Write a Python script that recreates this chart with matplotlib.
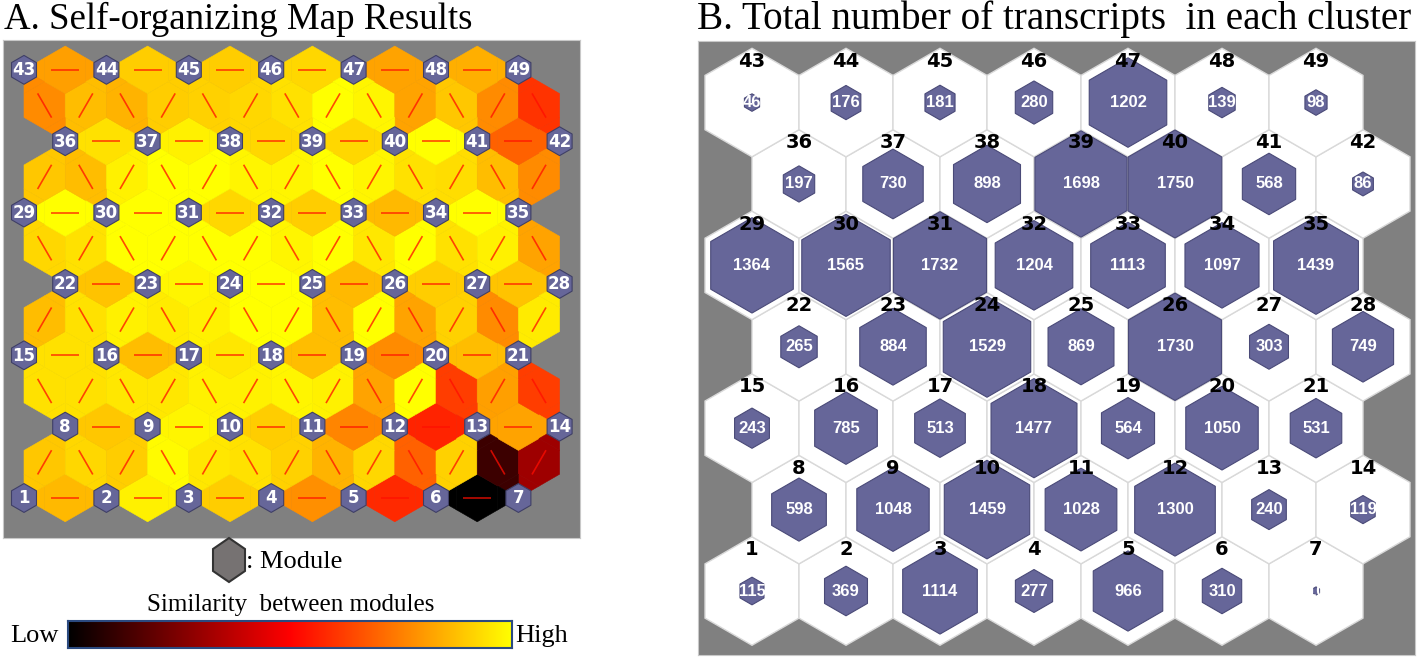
import numpy as np
import matplotlib.pyplot as plt
from matplotlib.patches import RegularPolygon, Polygon
from matplotlib.collections import PolyCollection, LineCollection
from matplotlib.colors import LinearSegmentedColormap

# cluster ids 1..49 (7 x 7 hex map, row by row from the bottom)
node_ids = list(range(1, 50))

# number of transcripts in each cluster (panel B)
cluster_sizes = [115, 369, 1114, 277, 966, 310, 10,
                 598, 1048, 1459, 1028, 1300, 240, 119,
                 243, 785, 513, 1477, 564, 1050, 531,
                 265, 884, 1529, 869, 1730, 303, 749,
                 1364, 1565, 1732, 1204, 1113, 1097, 1439,
                 197, 730, 898, 1698, 1750, 568, 86,
                 46, 176, 181, 280, 1202, 139, 98]

# similarity between horizontally neighbouring modules (one list per map row)
horiz_links = [
    [0.86, 0.97, 0.90, 0.78, 0.58, 0.00],
    [0.89, 0.98, 0.90, 0.76, 0.57, 0.82],
    [0.94, 0.87, 0.95, 0.87, 0.77, 0.87],
    [0.88, 0.98, 1.00, 0.86, 0.90, 0.88],
    [1.00, 1.00, 0.92, 0.90, 0.86, 1.00],
    [0.94, 0.97, 0.92, 0.92, 1.00, 0.69],
    [0.81, 0.90, 0.90, 0.92, 0.82, 0.84],
]

# similarity between diagonal neighbours (between map rows 1-2, 2-3, ...)
diag_links = [
    [0.89, 0.92, 0.90, 0.99, 0.95, 0.94, 0.91, 0.85, 0.92, 0.69, 0.91, 0.12, 0.31],
    [0.94, 0.94, 0.95, 0.95, 0.97, 0.97, 0.98, 0.97, 0.82, 1.00, 0.62, 0.81, 0.62],
    [0.87, 0.94, 0.97, 0.96, 0.97, 1.00, 1.00, 0.87, 1.00, 0.82, 0.91, 0.77, 0.96],
    [0.92, 0.94, 1.00, 1.00, 1.00, 1.00, 0.98, 1.00, 0.95, 1.00, 0.94, 0.97, 0.82],
    [0.89, 0.87, 0.97, 1.00, 1.00, 0.98, 0.98, 1.00, 0.98, 0.94, 0.93, 0.87, 0.77],
    [0.77, 0.87, 0.85, 0.90, 0.91, 0.92, 0.94, 1.00, 0.98, 0.82, 0.89, 0.77, 0.60],
]

W, H = 1418, 658
fig = plt.figure(figsize=(W / 100, H / 100), dpi=100)
cmap = LinearSegmentedColormap.from_list('sim', ['#000000', '#ff0000', '#ffff00'])
purple = '#666699'
HR = np.sqrt(3) / 2
R = 1 / np.sqrt(3)


def px_axes(x0, y0, x1, y1):
    return fig.add_axes([x0 / W, (H - y1) / H, (x1 - x0) / W, (y1 - y0) / H])


def hex_verts(x, y, r):
    a = np.deg2rad(np.arange(30, 390, 60))
    return np.column_stack([x + r * np.cos(a), y + r * np.sin(a)])


# ---------------- panel A : U-matrix ----------------
s = 41.2  # pixels per fine cell
axA = px_axes(3, 40, 580, 538)
axA.set_xlim((3 - 24) / s, (580 - 24) / s)
axA.set_ylim((498 - 538) / s, (498 - 40) / s)
axA.set_facecolor('#808080')
axA.set_xticks([])
axA.set_yticks([])
for sp in axA.spines.values():
    sp.set_color('#c8c8c8')


def row_off(r):
    if r % 2:
        return 0.5
    return 0 if r % 4 == 0 else 1


vals = {}
nodes = []
for r in range(13):
    for k in range(13):
        x = k + row_off(r)
        if r % 2 == 0:
            if k % 2 == 0:
                nodes.append((x, r))
                continue
            v = horiz_links[r // 2][k // 2]
        else:
            v = diag_links[r // 2][k]
        vals[(r, int(round(2 * x)))] = v

polys, cols, segs = [], [], []
for (r, x2), v in vals.items():
    x, y = x2 / 2, r * HR
    polys.append(hex_verts(x, y, R))
    cols.append(cmap(v))
    if r % 2 == 0:
        ang = 0
    else:
        kl = x - 0.5 - row_off(r - 1)
        ang = 60 if (abs(kl - round(kl)) < 1e-6 and round(kl) % 2 == 0 and 0 <= kl <= 12) else 120
    t = np.deg2rad(ang)
    d = 0.34
    segs.append([(x - d * np.cos(t), y - d * np.sin(t)), (x + d * np.cos(t), y + d * np.sin(t))])

# node cells: six triangles, each shaded like the link cell it faces
for (x, r) in nodes:
    y = r * HR
    for th in range(0, 360, 60):
        t = np.deg2rad(th)
        key = (r + int(round(np.sin(t) / HR)), int(round(2 * (x + np.cos(t)))))
        if key not in vals:
            continue
        a1, a2 = np.deg2rad(th - 30), np.deg2rad(th + 30)
        polys.append([(x, y), (x + R * np.cos(a1), y + R * np.sin(a1)),
                      (x + R * np.cos(a2), y + R * np.sin(a2))])
        cols.append(cmap(vals[key]))

axA.add_collection(PolyCollection(polys, facecolors=cols, edgecolors=cols, linewidths=0.4, zorder=1))
axA.add_collection(LineCollection(segs, colors=[(1, 0.05, 0, 0.75)], linewidths=1.2, zorder=2))

for i, (x, r) in enumerate(sorted(nodes, key=lambda p: (p[1], p[0]))):
    y = r * HR
    axA.add_patch(RegularPolygon((x, y), 6, radius=0.35, facecolor=purple,
                                 edgecolor='#3f3f66', lw=0.8, zorder=3))
    axA.text(x, y - 0.01, str(node_ids[i]), color='white', fontsize=12, fontweight='bold',
             ha='center', va='center', zorder=4)

# ---------------- panel B : cluster sizes ----------------
sb = 94.0
axB = px_axes(698, 41, 1415, 655)
axB.set_xlim((698 - 752) / sb, (1415 - 752) / sb)
axB.set_ylim((591 - 655) / sb, (591 - 41) / sb)
axB.set_facecolor('#808080')
axB.set_xticks([])
axB.set_yticks([])
for sp in axB.spines.values():
    sp.set_color('#c8c8c8')

smax = max(cluster_sizes)
for i, n in enumerate(cluster_sizes):
    row, col = divmod(i, 7)
    x, y = col + 0.5 * (row % 2), row * HR
    axB.add_patch(RegularPolygon((x, y), 6, radius=R, facecolor='white',
                                 edgecolor='#d9d9d9', lw=1.0, zorder=1))
    hx = RegularPolygon((x, y), 6, radius=R * np.sqrt(n / smax) * 0.995, facecolor=purple,
                        edgecolor='#4a4a78', lw=0.8, zorder=2)
    axB.add_patch(hx)
    t = axB.text(x, y, str(n), color='white', fontsize=12, fontweight='bold',
                 family='Liberation Sans', ha='center', va='center', zorder=3)
    t.set_clip_path(hx)
    axB.text(x, y + 0.44, str(node_ids[i]), color='black', fontsize=14, fontweight='bold',
             ha='center', va='center', zorder=4)

# ---------------- titles and legend ----------------
ov = fig.add_axes([0, 0, 1, 1])
ov.set_xlim(0, W)
ov.set_ylim(H, 0)
ov.axis('off')
ov.patch.set_alpha(0)

serif = 'Liberation Serif'
ov.text(4, 29, 'A. Self-organizing Map Results', fontsize=26.6, family=serif, va='baseline')
ov.text(697, 29, 'B. Total number of transcripts  in each cluster', fontsize=28.2, family=serif,
        va='baseline')

cx, cy = 229, 560
ov.add_patch(Polygon([(cx, cy - 22), (cx + 16, cy - 11), (cx + 16, cy + 11), (cx, cy + 22),
                      (cx - 16, cy + 11), (cx - 16, cy - 11)], closed=True,
                     facecolor='#767272', edgecolor='#333333', lw=1.5))
ov.text(246, 568, ': Module', fontsize=19, family=serif, va='baseline')
ov.text(291, 611, 'Similarity  between modules', fontsize=18, family=serif, va='baseline', ha='center')
ov.text(10, 642, 'Low', fontsize=19, family=serif, va='baseline')
ov.text(515, 642, 'High', fontsize=19, family=serif, va='baseline')

cb = px_axes(68, 621, 512, 648)
cb.imshow(np.linspace(0, 1, 256)[None, :], cmap=cmap, aspect='auto')
cb.set_xticks([])
cb.set_yticks([])
for sp in cb.spines.values():
    sp.set_color('#2b4a80')
    sp.set_linewidth(1.5)

fig.savefig('out.png', dpi=100)
